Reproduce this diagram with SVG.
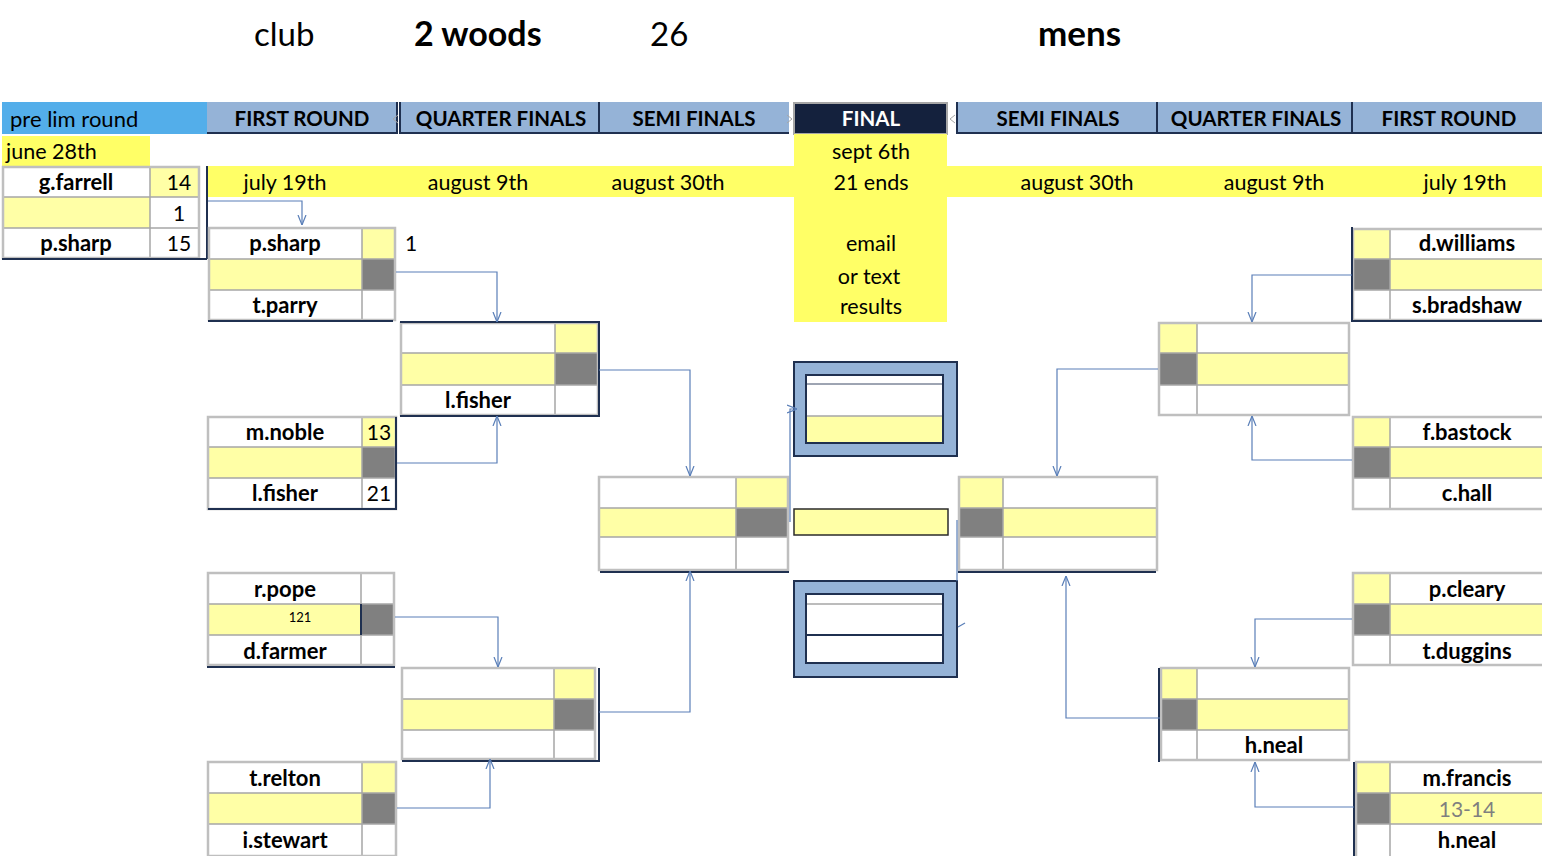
<svg xmlns="http://www.w3.org/2000/svg" width="1542" height="856" viewBox="0 0 1542 856">
<defs>
<style>
.t{font-family:Lato,"Liberation Sans",sans-serif;fill:#000}
.b{font-weight:bold}
.nm{font-family:Lato,"Liberation Sans",sans-serif;font-weight:bold;font-size:22px;text-anchor:middle}
.sc{font-family:Lato,"Liberation Sans",sans-serif;font-size:21px;text-anchor:middle}
.hd{font-family:Lato,"Liberation Sans",sans-serif;font-weight:bold;font-size:20.5px;text-anchor:middle}
.dt{font-family:Lato,"Liberation Sans",sans-serif;font-size:21.5px;text-anchor:middle}
.w{fill:#fff}
.ly{fill:#FFFFA6}
.gr{fill:#808080}
.hb{fill:#95B3D7}
.ol{fill:none;stroke:#BFBFBF;stroke-width:2.5}
.il{stroke:#A6A6A6;stroke-width:1.5;fill:none}
.dk{stroke:#1F3050;stroke-width:2;fill:none}
.cn{fill:none;stroke:#5A7FB8;stroke-width:1.2}
</style>
<marker id="ah" viewBox="0 0 10 10" refX="10" refY="5" markerWidth="10" markerHeight="10" markerUnits="userSpaceOnUse" orient="auto">
<path d="M0,1 L10,5 L0,9" fill="none" stroke="#5A7FB8" stroke-width="1.2"/>
</marker>
</defs>
<rect x="0" y="0" width="1542" height="856" fill="#fff"/>

<g id="title">
<text class="t" x="254" y="46" font-size="33">club</text>
<text class="t b" x="414" y="46" font-size="34">2 woods</text>
<text class="t" x="650" y="46" font-size="33">26</text>
<text class="t b" x="1038" y="46" font-size="35">mens</text>
</g>

<g id="headers">
<rect x="2" y="102" width="205" height="32" fill="#53AEEA"/>
<text class="t" x="10" y="127" font-size="22">pre lim round</text>
<rect x="207" y="102" width="190" height="32" class="hb"/>
<path d="M207,133 H397 V102" class="dk" stroke-width="1.5"/>
<text class="hd" x="302" y="126">FIRST ROUND</text>
<rect x="400" y="102" width="199" height="32" class="hb"/>
<path d="M400,102 V133 H599 V102" class="dk" stroke-width="1.5"/>
<text class="hd" x="501" y="126">QUARTER FINALS</text>
<rect x="600" y="102" width="189" height="32" class="hb"/>
<path d="M600,133 H789" class="dk" stroke-width="1.5"/>
<text class="hd" x="694" y="126">SEMI FINALS</text>
<rect x="794" y="103" width="153" height="31" fill="#14213D" stroke="#A6A6A6" stroke-width="2"/>
<text class="hd" x="871" y="126" style="fill:#fff">FINAL</text>
<rect x="957" y="102" width="200" height="32" class="hb"/>
<path d="M957,102 V133 H1157 V102" class="dk" stroke-width="1.5"/>
<text class="hd" x="1058" y="126">SEMI FINALS</text>
<rect x="1158" y="102" width="194" height="32" class="hb"/>
<path d="M1158,133 H1352 V102" class="dk" stroke-width="1.5"/>
<text class="hd" x="1256" y="126">QUARTER FINALS</text>
<rect x="1353" y="102" width="189" height="32" class="hb"/>
<path d="M1353,133 H1542" class="dk" stroke-width="1.5"/>
<text class="hd" x="1449" y="126">FIRST ROUND</text>
<path d="M398,115 L393,119 L398,123" fill="none" stroke="#A6A6A6" stroke-width="1"/>
<path d="M787,115 L792,119 L787,123" fill="none" stroke="#A6A6A6" stroke-width="1"/>
<path d="M955,115 L950,119 L955,123" fill="none" stroke="#A6A6A6" stroke-width="1"/>
</g>

<g id="dates">
<rect x="2" y="136" width="148" height="30" fill="#FFFF66"/>
<text class="t" x="6" y="159" font-size="21.5">june 28th</text>
<rect x="207" y="166" width="1335" height="31" fill="#FFFF66"/>
<rect x="794" y="134" width="153" height="188" fill="#FFFF66"/>
<text class="dt" x="285" y="190">july 19th</text>
<text class="dt" x="478" y="190">august 9th</text>
<text class="dt" x="668" y="190">august 30th</text>
<text class="dt" x="871" y="159">sept 6th</text>
<text class="dt" x="871" y="190">21 ends</text>
<text class="dt" x="871" y="251">email</text>
<text class="dt" x="869" y="284">or text</text>
<text class="dt" x="871" y="314">results</text>
<text class="dt" x="1077" y="190">august 30th</text>
<text class="dt" x="1274" y="190">august 9th</text>
<text class="dt" x="1465" y="190">july 19th</text>
</g>

<g id="prelim">
<rect x="3" y="167" width="147" height="30" class="w"/>
<rect x="150" y="167" width="49" height="30" class="ly"/>
<rect x="3" y="197" width="147" height="31" class="ly"/>
<rect x="150" y="197" width="49" height="31" class="w"/>
<rect x="3" y="228" width="196" height="30" class="w"/>
<path d="M3,197 H199 M3,228 H199 M150,167 V258" class="il"/>
<rect x="3" y="167" width="196" height="91" class="ol"/>
<path d="M2,259 H207 M207,166 V259" class="dk"/>
<text class="nm" x="76" y="190">g.farrell</text>
<text class="sc" x="179" y="190">14</text>
<text class="sc" x="179" y="221">1</text>
<text class="nm" x="76" y="251">p.sharp</text>
<text class="sc" x="179" y="251">15</text>
</g>

<g id="fr-l1">
<rect x="209" y="228" width="153" height="31" class="w"/>
<rect x="362" y="228" width="33" height="31" class="ly"/>
<rect x="209" y="259" width="153" height="31" class="ly"/>
<rect x="362" y="259" width="33" height="31" class="gr"/>
<rect x="209" y="290" width="186" height="30" class="w"/>
<path d="M209,259 H395 M209,290 H395 M362,228 V320" class="il"/>
<rect x="209" y="228" width="186" height="92" class="ol"/>
<path d="M208,321 H393" class="dk"/>
<text class="nm" x="285" y="251">p.sharp</text>
<text class="nm" x="285" y="313">t.parry</text>
<text class="sc" x="411" y="251">1</text>
</g>

<g id="fr-l2">
<rect x="208" y="417" width="154" height="30" class="w"/>
<rect x="362" y="417" width="34" height="30" class="ly"/>
<rect x="208" y="447" width="154" height="31" class="ly"/>
<rect x="362" y="447" width="34" height="31" class="gr"/>
<rect x="208" y="478" width="188" height="31" class="w"/>
<path d="M208,447 H396 M208,478 H396 M362,417 V509" class="il"/>
<rect x="208" y="417" width="188" height="92" class="ol"/>
<path d="M396,417 V509 H208" class="dk"/>
<text class="nm" x="285" y="440">m.noble</text>
<text class="sc" x="379" y="440">13</text>
<text class="nm" x="285" y="501">l.fisher</text>
<text class="sc" x="379" y="501">21</text>
</g>

<g id="fr-l3">
<rect x="208" y="573" width="153" height="31" class="w"/>
<rect x="361" y="573" width="33" height="31" class="w"/>
<rect x="208" y="604" width="153" height="31" class="ly"/>
<rect x="361" y="604" width="33" height="31" class="gr"/>
<rect x="208" y="635" width="186" height="30" class="w"/>
<path d="M208,604 H394 M208,635 H394 M361,573 V665" class="il"/>
<path d="M361,604 V635" class="dk" stroke-width="1.5"/>
<rect x="208" y="573" width="186" height="92" class="ol"/>
<path d="M207,667 H395" class="dk"/>
<text class="nm" x="285" y="597">r.pope</text>
<text class="t" x="300" y="622" font-size="13" text-anchor="middle">121</text>
<text class="nm" x="285" y="659">d.farmer</text>
</g>

<g id="fr-l4">
<rect x="208" y="762" width="154" height="31" class="w"/>
<rect x="362" y="762" width="34" height="31" class="ly"/>
<rect x="208" y="793" width="154" height="31" class="ly"/>
<rect x="362" y="793" width="34" height="31" class="gr"/>
<rect x="208" y="824" width="188" height="32" class="w"/>
<path d="M208,793 H396 M208,824 H396 M362,762 V856" class="il"/>
<rect x="208" y="762" width="188" height="94" class="ol"/>
<text class="nm" x="285" y="786">t.relton</text>
<text class="nm" x="285" y="848">i.stewart</text>
</g>

<g id="qf-l1">
<rect x="401" y="323" width="154" height="30" class="w"/>
<rect x="555" y="323" width="43" height="30" class="ly"/>
<rect x="401" y="353" width="154" height="32" class="ly"/>
<rect x="555" y="353" width="43" height="32" class="gr"/>
<rect x="401" y="385" width="197" height="30" class="w"/>
<path d="M401,353 H598 M401,385 H598 M555,323 V415" class="il"/>
<rect x="401" y="323" width="197" height="92" class="ol"/>
<path d="M400,322 H599 V416 H400" class="dk" stroke-width="1.5" stroke="#3C4B66"/>
<text class="nm" x="478" y="408">l.fisher</text>
</g>

<g id="qf-l2">
<rect x="402" y="668" width="152" height="31" class="w"/>
<rect x="554" y="668" width="41" height="31" class="ly"/>
<rect x="402" y="699" width="152" height="31" class="ly"/>
<rect x="554" y="699" width="41" height="31" class="gr"/>
<rect x="402" y="730" width="193" height="29" class="w"/>
<path d="M402,699 H595 M402,730 H595 M554,668 V759" class="il"/>
<rect x="402" y="668" width="193" height="91" class="ol"/>
<path d="M599,668 V761 H402" class="dk"/>
</g>

<g id="sf-l">
<rect x="599" y="477" width="137" height="31" class="w"/>
<rect x="736" y="477" width="52" height="31" class="ly"/>
<rect x="599" y="508" width="137" height="29" class="ly"/>
<rect x="736" y="508" width="52" height="29" class="gr"/>
<rect x="599" y="537" width="189" height="33" class="w"/>
<path d="M599,508 H788 M599,537 H788 M736,477 V572" class="il"/>
<rect x="599" y="477" width="189" height="93" class="ol"/>
<path d="M600,572 H789" class="dk"/>
</g>

<g id="final-top">
<rect x="794" y="362" width="163" height="94" class="hb" stroke="#1F3050" stroke-width="2"/>
<rect x="806" y="375" width="137" height="68" class="w"/>
<rect x="806" y="416" width="137" height="27" class="ly"/>
<path d="M806,384 H943" stroke="#3C4B66" stroke-width="1"/>
<path d="M806,416 H943" class="il"/>
<rect x="806" y="375" width="137" height="68" fill="none" stroke="#1F3050" stroke-width="2"/>
</g>

<g id="final-mid">
<rect x="794" y="509" width="154" height="26" class="ly" stroke="#2B2B2B" stroke-width="1.5"/>
</g>

<g id="final-bottom">
<rect x="794" y="581" width="163" height="96" class="hb" stroke="#1F3050" stroke-width="2"/>
<rect x="806" y="594" width="137" height="69" class="w"/>
<path d="M806,604 H943" class="il"/>
<path d="M806,635 H943" class="dk"/>
<rect x="806" y="594" width="137" height="69" fill="none" stroke="#1F3050" stroke-width="2"/>
</g>

<g id="sf-r">
<rect x="959" y="477" width="44" height="31" class="ly"/>
<rect x="1003" y="477" width="154" height="31" class="w"/>
<rect x="959" y="508" width="44" height="29" class="gr"/>
<rect x="1003" y="508" width="154" height="29" class="ly"/>
<rect x="959" y="537" width="198" height="33" class="w"/>
<path d="M959,508 H1157 M959,537 H1157 M1003,477 V572" class="il"/>
<rect x="959" y="477" width="198" height="93" class="ol"/>
<path d="M958,572 H1156" class="dk"/>
</g>

<g id="qf-r1">
<rect x="1159" y="323" width="38" height="30" class="ly"/>
<rect x="1197" y="323" width="152" height="30" class="w"/>
<rect x="1159" y="353" width="38" height="32" class="gr"/>
<rect x="1197" y="353" width="153" height="32" class="ly"/>
<rect x="1159" y="385" width="190" height="30" class="w"/>
<path d="M1159,353 H1349 M1159,385 H1349 M1197,323 V415" class="il"/>
<rect x="1159" y="323" width="190" height="92" class="ol"/>
</g>

<g id="qf-r2">
<rect x="1161" y="668" width="36" height="31" class="ly"/>
<rect x="1197" y="668" width="152" height="31" class="w"/>
<rect x="1161" y="699" width="36" height="31" class="gr"/>
<rect x="1197" y="699" width="152" height="31" class="ly"/>
<rect x="1161" y="730" width="188" height="30" class="w"/>
<path d="M1161,699 H1349 M1161,730 H1349 M1197,668 V760" class="il"/>
<rect x="1161" y="668" width="188" height="92" class="ol"/>
<path d="M1159,668 V762" class="dk"/>
<text class="nm" x="1274" y="753">h.neal</text>
</g>

<g id="fr-r1">
<rect x="1353" y="229" width="37" height="30" class="ly"/>
<rect x="1390" y="229" width="152" height="30" class="w"/>
<rect x="1353" y="259" width="37" height="31" class="gr"/>
<rect x="1390" y="259" width="152" height="31" class="ly"/>
<rect x="1353" y="290" width="189" height="30" class="w"/>
<path d="M1353,259 H1542 M1353,290 H1542 M1390,229 V320" class="il"/>
<path d="M1542,229 H1353 V320 H1542" class="ol"/>
<path d="M1352,227 V321 H1542" class="dk" stroke-width="1.5"/>
<text class="nm" x="1467" y="251">d.williams</text>
<text class="nm" x="1467" y="313">s.bradshaw</text>
</g>

<g id="fr-r2">
<rect x="1353" y="417" width="37" height="30" class="ly"/>
<rect x="1390" y="417" width="152" height="30" class="w"/>
<rect x="1353" y="447" width="37" height="31" class="gr"/>
<rect x="1390" y="447" width="152" height="31" class="ly"/>
<rect x="1353" y="478" width="189" height="31" class="w"/>
<path d="M1353,447 H1542 M1353,478 H1542 M1390,417 V509" class="il"/>
<path d="M1542,417 H1353 V509 H1542" class="ol"/>
<text class="nm" x="1467" y="440">f.bastock</text>
<text class="nm" x="1467" y="501">c.hall</text>
</g>

<g id="fr-r3">
<rect x="1353" y="573" width="37" height="31" class="ly"/>
<rect x="1390" y="573" width="152" height="31" class="w"/>
<rect x="1353" y="604" width="37" height="31" class="gr"/>
<rect x="1390" y="604" width="152" height="31" class="ly"/>
<rect x="1353" y="635" width="189" height="30" class="w"/>
<path d="M1353,604 H1542 M1353,635 H1542 M1390,573 V665" class="il"/>
<path d="M1542,573 H1353 V665 H1542" class="ol"/>
<text class="nm" x="1467" y="597">p.cleary</text>
<text class="nm" x="1467" y="659">t.duggins</text>
</g>

<g id="fr-r4">
<rect x="1356" y="762" width="34" height="31" class="ly"/>
<rect x="1390" y="762" width="152" height="31" class="w"/>
<rect x="1356" y="793" width="34" height="31" class="gr"/>
<rect x="1390" y="793" width="152" height="31" class="ly"/>
<rect x="1356" y="824" width="186" height="32" class="w"/>
<path d="M1356,793 H1542 M1356,824 H1542 M1390,762 V856" class="il"/>
<path d="M1542,762 H1356 V856" class="ol"/>
<path d="M1354,762 V856" class="dk"/>
<text class="nm" x="1467" y="786">m.francis</text>
<text class="sc" x="1467" y="817" style="fill:#7F7F7F">13-14</text>
<text class="nm" x="1467" y="848">h.neal</text>
</g>

<g id="connectors">
<path class="cn" marker-end="url(#ah)" d="M208,201 H302 V225"/>
<path class="cn" marker-end="url(#ah)" d="M396,272 H497 V322"/>
<path class="cn" marker-end="url(#ah)" d="M397,463 H497 V416"/>
<path class="cn" marker-end="url(#ah)" d="M599,370 H690 V476"/>
<path class="cn" marker-end="url(#ah)" d="M395,617 H498 V667"/>
<path class="cn" marker-end="url(#ah)" d="M397,808 H490 V759"/>
<path class="cn" marker-end="url(#ah)" d="M599,712 H690 V571"/>
<path class="cn" marker-end="url(#ah)" d="M790,522 V409 H797"/>
<path class="cn" d="M957,520 V581"/>
<path class="cn" d="M958,627 L965,623"/>
<path class="cn" marker-end="url(#ah)" d="M1352,275 H1252 V322"/>
<path class="cn" marker-end="url(#ah)" d="M1352,460 H1252 V416"/>
<path class="cn" marker-end="url(#ah)" d="M1158,369 H1057 V476"/>
<path class="cn" marker-end="url(#ah)" d="M1352,619 H1255 V667"/>
<path class="cn" marker-end="url(#ah)" d="M1354,807 H1255 V762"/>
<path class="cn" marker-end="url(#ah)" d="M1160,718 H1066 V576"/>
</g>
</svg>
